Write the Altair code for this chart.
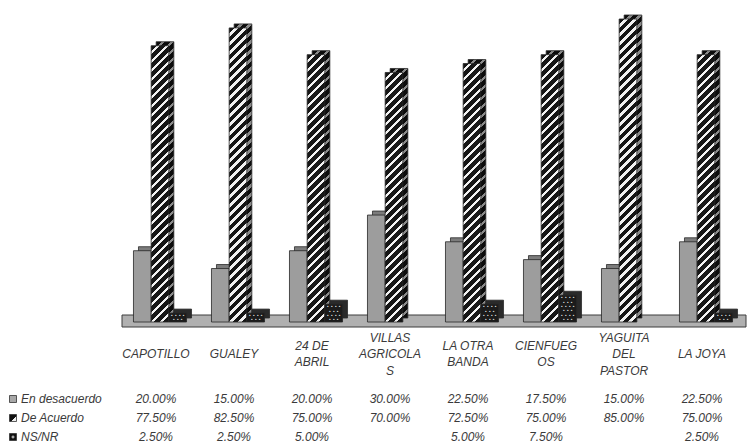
import altair as alt
import pandas as pd

# ---- data -------------------------------------------------------------
categorias = ["CAPOTILLO", "GUALEY", "24 DE|ABRIL", "VILLAS|AGRICOLA|S",
              "LA OTRA|BANDA", "CIENFUEG|OS", "YAGUITA|DEL|PASTOR", "LA JOYA"]
series = ["En desacuerdo", "De Acuerdo", "NS/NR"]
en_desacuerdo = [20.0, 15.0, 20.0, 30.0, 22.5, 17.5, 15.0, 22.5]
de_acuerdo = [77.5, 82.5, 75.0, 70.0, 72.5, 75.0, 85.0, 75.0]
ns_nr = [2.5, 2.5, 5.0, None, 5.0, 7.5, None, 2.5]

# ---- layout / style -----------------------------------------------------
W, H = 750, 443
X_RANGE = [121, 745]
PAD_INNER = 0.32
Y_MAX = 85
Y_RANGE = [322, 19]
DEPTH_X, DEPTH_Y = 5, -4
FONT = "Liberation Sans"
TEXT_COLOR = "#3a3a3a"
LABEL_LINE = 16.5
LABEL_MID = 354
DOT_PITCH = 4.4

step = (X_RANGE[1] - X_RANGE[0]) / len(categorias)
bar_w = step * (1 - PAD_INNER) / len(series)
px_per_unit = (Y_RANGE[0] - Y_RANGE[1]) / Y_MAX


def stripes(h, w, dark, light, period=9.0, dark_frac=0.6):
    """Diagonal '/' stripes as a hard-stop linear gradient sized to one bar."""
    span = w + h
    k = span / (w * w + h * h)
    stops, s = [], 0.0
    while s < span:
        a = s / span
        b = min((s + dark_frac * period) / span, 1.0)
        c = min((s + period) / span, 1.0)
        stops += [{"offset": a, "color": dark}, {"offset": b, "color": dark},
                  {"offset": b, "color": light}, {"offset": c, "color": light}]
        s += period
    return {"gradient": "linear", "x1": 0, "y1": 0, "x2": k * w, "y2": k * h,
            "stops": stops}


def dot_rows(h):
    """Staggered rows of small dots filling a column of height h."""
    n = max(1, int(h // DOT_PITCH))
    return "|".join("• • • •" if i % 2 == 0 else "• • •" for i in range(n))


rows = []
for i, cat in enumerate(categorias):
    for serie, vals in zip(series, [en_desacuerdo, de_acuerdo, ns_nr]):
        v = vals[i]
        rows.append({"cat": cat, "serie": serie, "valor": v,
                     "texto": "" if v is None else f"{v:.2f}%"})
tabla = pd.DataFrame(rows)

barras = tabla[tabla["valor"].notna()].copy()
front, back, dots = [], [], []
for _, r in barras.iterrows():
    h = r["valor"] * px_per_unit
    if r["serie"] == "En desacuerdo":
        front.append("#9d9d9d")
        back.append("#7c7c7c")
        dots.append("")
    elif r["serie"] == "De Acuerdo":
        front.append(stripes(h, bar_w, "#161616", "#f2f2f2"))
        back.append(stripes(h, bar_w, "#0c0c0c", "#8a8a8a"))
        dots.append("")
    else:
        front.append("#1b1b1b")
        back.append("#2a2a2a")
        dots.append(dot_rows(h))
barras["fill"] = front
barras["fill_back"] = back
barras["puntos"] = dots

nombres_cat = pd.DataFrame({"cat": categorias,
                            "lineas": [c.count("|") + 1 for c in categorias]})

claves = pd.DataFrame({
    "serie": series,
    "fill": [
        "#a8a8a8",
        {"gradient": "linear", "x1": 0, "y1": 0, "x2": 1, "y2": 1,
         "stops": [{"offset": 0, "color": "#111"}, {"offset": 0.62, "color": "#111"},
                   {"offset": 0.62, "color": "#eee"}, {"offset": 1, "color": "#eee"}]},
        {"gradient": "radial", "x1": 0.5, "y1": 0.5, "r1": 0, "x2": 0.5, "y2": 0.5, "r2": 0.5,
         "stops": [{"offset": 0, "color": "#ddd"}, {"offset": 0.3, "color": "#ddd"},
                   {"offset": 0.35, "color": "#111"}, {"offset": 1, "color": "#111"}]},
    ],
})


# ---- shared encodings -------------------------------------------------------
def x_enc(shift=0):
    return alt.X("cat:N", sort=categorias, axis=None,
                 scale=alt.Scale(domain=categorias,
                                 range=[X_RANGE[0] + shift, X_RANGE[1] + shift],
                                 paddingInner=PAD_INNER, paddingOuter=PAD_INNER / 2))


xo_enc = alt.XOffset("serie:N", sort=series, scale=alt.Scale(domain=series))
y_scale = alt.Scale(domain=[0, Y_MAX], range=Y_RANGE, nice=False, zero=True)
row_scale = alt.Scale(domain=series, range=[399, 437], padding=0)

# floor the columns stand on
piso = alt.Chart(pd.DataFrame({"p": [0]})).mark_rect(
    fill="#b0b0b0", stroke="#3c3c3c", strokeWidth=1
).encode(x=alt.value(122), x2=alt.value(746), y=alt.value(315), y2=alt.value(327))

base = alt.Chart(barras)

# top and side faces: the same columns pushed back in depth
caras_traseras = base.mark_bar(
    yOffset=DEPTH_Y, stroke="#2a2a2a", strokeWidth=0.8
).encode(
    x=x_enc(DEPTH_X), xOffset=xo_enc,
    y=alt.Y("valor:Q", scale=y_scale, axis=None),
    fill=alt.Fill("fill_back:N", scale=None),
)

caras = base.mark_bar(stroke="#262626", strokeWidth=0.8).encode(
    x=x_enc(), xOffset=xo_enc,
    y=alt.Y("valor:Q", scale=y_scale, axis=None),
    fill=alt.Fill("fill:N", scale=None),
)

puntos = base.transform_filter("datum.puntos != ''").mark_text(
    color="#e8e8e8", font="DejaVu Sans", fontSize=4.4, lineBreak="|",
    lineHeight=DOT_PITCH, baseline="top", align="center", dy=1
).encode(
    x=x_enc(), xOffset=xo_enc,
    y=alt.Y("valor:Q", scale=y_scale, axis=None),
    text="puntos:N",
)

etiquetas = alt.Chart(nombres_cat).mark_text(
    font=FONT, fontSize=12, fontStyle="italic", color=TEXT_COLOR,
    lineBreak="|", lineHeight=LABEL_LINE, baseline="middle", align="center", dx=-4
).encode(
    x=x_enc(),
    y=alt.Y("lineas:Q", axis=None,
            scale=alt.Scale(domain=[1, 3], range=[LABEL_MID, LABEL_MID - LABEL_LINE],
                            zero=False, nice=False)),
    text="cat:N",
)

valores = alt.Chart(tabla).mark_text(
    font=FONT, fontSize=12, fontStyle="italic", color=TEXT_COLOR,
    baseline="middle", align="center", dx=-4
).encode(
    x=x_enc(),
    y=alt.Y("serie:N", scale=row_scale, axis=None),
    text="texto:N",
)

simbolos = alt.Chart(claves).mark_square(
    size=49, stroke="#333", strokeWidth=0.8, opacity=1
).encode(
    x=alt.value(13),
    y=alt.Y("serie:N", scale=row_scale, axis=None),
    fill=alt.Fill("fill:N", scale=None),
)

nombres = alt.Chart(claves).mark_text(
    font=FONT, fontSize=12, fontStyle="italic", color=TEXT_COLOR,
    baseline="middle", align="left"
).encode(
    x=alt.value(21),
    y=alt.Y("serie:N", scale=row_scale, axis=None),
    text="serie:N",
)

chart = alt.layer(
    piso, caras_traseras, caras, puntos, etiquetas, valores, simbolos, nombres
).resolve_scale(x="independent", y="independent").properties(
    width=W, height=H, padding=0, autosize="none", background="white"
).configure_view(stroke=None)

chart.save("out.html", embed_options={"renderer": "svg", "actions": False})
